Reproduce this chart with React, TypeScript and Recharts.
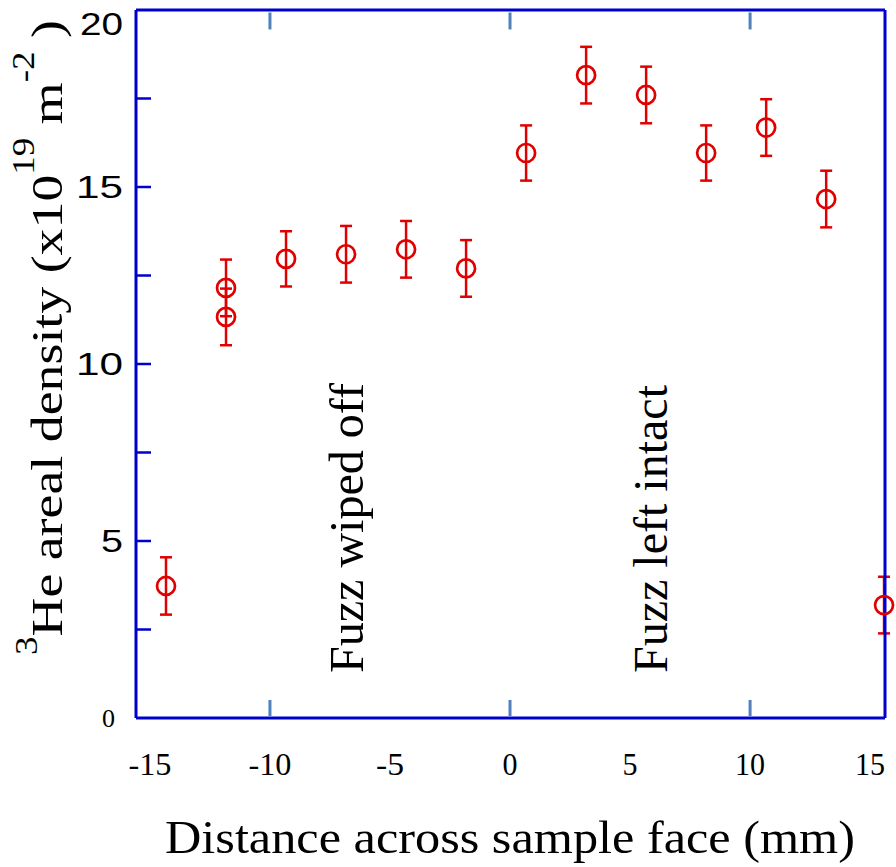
import { ComposedChart, Scatter, ErrorBar, XAxis, YAxis, ReferenceLine } from 'recharts';

// positions across the sample face (mm)
const positions = [-14.33, -11.83, -11.83, -9.33, -6.83, -4.33, -1.83, 0.67, 3.17, 5.67, 8.17, 10.67, 13.17, 15.58];
// 3He areal density (x10^19 m^-2)
const density = [3.73, 12.15, 11.33, 12.97, 13.1, 13.24, 12.7, 15.96, 18.16, 17.6, 15.96, 16.68, 14.66, 3.19];
const densityErr = [0.81, 0.8, 0.8, 0.78, 0.8, 0.8, 0.8, 0.78, 0.8, 0.8, 0.78, 0.8, 0.8, 0.8];

const xTicks = [-15, -10, -5, 0, 5, 10, 15];
const xMarkTicks = [-10, 0, 10];
const yTicks = [0, 2.5, 5, 7.5, 10, 12.5, 15, 17.5, 20];

const W = 896;
const H = 867;
const FRAME = '#0000cc';
const MARK = '#4f81bd';
const RED = '#e00000';

const data = positions.map((x, i) => ({ x, y: density[i], err: densityErr[i] }));

// widths of the stretched tick labels, as they look in the figure
const labelWidth = (s: string) => s.length * 15 - (s.startsWith('-') ? 2 : 0);

const BottomTick = (props: any) => {
  const { x, y, payload } = props;
  const v = payload.value;
  const s = String(v);
  return (
    <g>
      {xMarkTicks.includes(v) && (
        <line x1={x} x2={x} y1={y - 2} y2={y - 18} stroke={MARK} strokeWidth={3} />
      )}
      <text
        x={x - labelWidth(s) / 2}
        y={y + 57}
        fontFamily="'Liberation Serif', serif"
        fontSize={31}
        textLength={labelWidth(s)}
        lengthAdjust="spacingAndGlyphs"
        fill="#000"
      >
        {s}
      </text>
    </g>
  );
};

const LeftTick = (props: any) => {
  const { x, y, payload } = props;
  const v = payload.value;
  const showLabel = v % 5 === 0;
  const w = v === 5 ? 22 : v === 20 ? 43 : 47;
  return (
    <g>
      {v > 0 && v < 20 && <line x1={x} x2={x + 15} y1={y} y2={y} stroke={FRAME} strokeWidth={2.5} />}
      {showLabel && v > 0 && (
        <text
          x={x - 13 - w}
          y={v === 20 ? y + 25 : y + 11}
          fontFamily="'Liberation Sans', Arial, sans-serif"
          fontSize={31}
          textLength={w}
          lengthAdjust="spacingAndGlyphs"
          fill="#000"
        >
          {v}
        </text>
      )}
      {v === 0 && (
        <text x={x - 21} y={y + 9} textAnchor="end" fontFamily="'Liberation Serif', serif" fontSize={26} fill="#000">
          0
        </text>
      )}
    </g>
  );
};

const RightTick = (props: any) => {
  const { x, y, payload } = props;
  const v = payload.value;
  if (v <= 0 || v >= 20) return <g />;
  return <line x1={x} x2={x - 14} y1={y} y2={y} stroke={FRAME} strokeWidth={2.5} />;
};

const Ring = (props: any) => {
  const { cx, cy } = props;
  return <circle cx={cx} cy={cy} r={9} fill="none" stroke={RED} strokeWidth={2.7} />;
};

export default function App() {
  return (
    <div style={{ position: 'absolute', left: 0, top: 0, width: W, height: H, background: '#fff' }}>
      <ComposedChart width={W} height={H} data={data} margin={{ top: 0, right: 0, bottom: 0, left: 0 }}>
        <XAxis
          xAxisId="b"
          dataKey="x"
          type="number"
          orientation="bottom"
          domain={[-15.58, 15.62]}
          ticks={xTicks}
          height={149}
          tickSize={0}
          tickMargin={0}
          tickLine={false}
          axisLine={{ stroke: FRAME, strokeWidth: 3 }}
          tick={<BottomTick />}
        />
        <XAxis
          xAxisId="t"
          dataKey="x"
          type="number"
          orientation="top"
          domain={[-15.58, 15.62]}
          allowDataOverflow
          height={10}
          tick={false}
          tickLine={false}
          axisLine={{ stroke: FRAME, strokeWidth: 3 }}
        />
        <YAxis
          yAxisId="l"
          type="number"
          orientation="left"
          domain={[0, 20]}
          ticks={yTicks}
          width={136}
          tickSize={0}
          tickMargin={0}
          tickLine={false}
          axisLine={{ stroke: FRAME, strokeWidth: 3 }}
          tick={<LeftTick />}
        />
        <YAxis
          yAxisId="r"
          type="number"
          orientation="right"
          domain={[0, 20]}
          ticks={yTicks}
          width={11}
          tickSize={0}
          tickMargin={0}
          tickLine={false}
          axisLine={{ stroke: FRAME, strokeWidth: 3 }}
          tick={<RightTick />}
        />
        {xMarkTicks.map((v) => (
          <ReferenceLine
            key={v}
            xAxisId="b"
            yAxisId="l"
            segment={[
              { x: v, y: 19.93 },
              { x: v, y: 19.45 },
            ]}
            stroke={MARK}
            strokeWidth={3}
          />
        ))}
        <Scatter xAxisId="b" yAxisId="l" dataKey="y" shape={<Ring />} isAnimationActive={false}>
          <ErrorBar dataKey="err" direction="y" width={6} stroke={RED} strokeWidth={2.5} isAnimationActive={false} />
        </Scatter>
      </ComposedChart>
      <svg width={W} height={H} style={{ position: 'absolute', left: 0, top: 0, pointerEvents: 'none' }}>
        <text
          transform="translate(62,655) rotate(-90)"
          fontFamily="'Liberation Serif', 'Times New Roman', serif"
          fontSize={45}
          textLength={635}
          lengthAdjust="spacingAndGlyphs"
          fill="#000"
        >
          <tspan fontSize={31} dy={-25}>3</tspan>
          <tspan dy={25}>He areal density (x10</tspan>
          <tspan fontSize={31} dy={-28}>19</tspan>
          <tspan dy={28}> m</tspan>
          <tspan fontSize={31} dy={-28}>-2</tspan>
          <tspan dy={28}> )</tspan>
        </text>
        <text
          transform="translate(363,673) rotate(-90)"
          fontFamily="'Liberation Serif', 'Times New Roman', serif"
          fontSize={48}
          textLength={290}
          lengthAdjust="spacingAndGlyphs"
          fill="#000"
        >
          Fuzz wiped off
        </text>
        <text
          transform="translate(667,673) rotate(-90)"
          fontFamily="'Liberation Serif', 'Times New Roman', serif"
          fontSize={48}
          textLength={288}
          lengthAdjust="spacingAndGlyphs"
          fill="#000"
        >
          Fuzz left intact
        </text>
        <text
          x={165}
          y={853}
          fontFamily="'Liberation Serif', 'Times New Roman', serif"
          fontSize={46}
          textLength={690}
          lengthAdjust="spacingAndGlyphs"
          fill="#000"
        >
          Distance across sample face (mm)
        </text>
      </svg>
    </div>
  );
}
